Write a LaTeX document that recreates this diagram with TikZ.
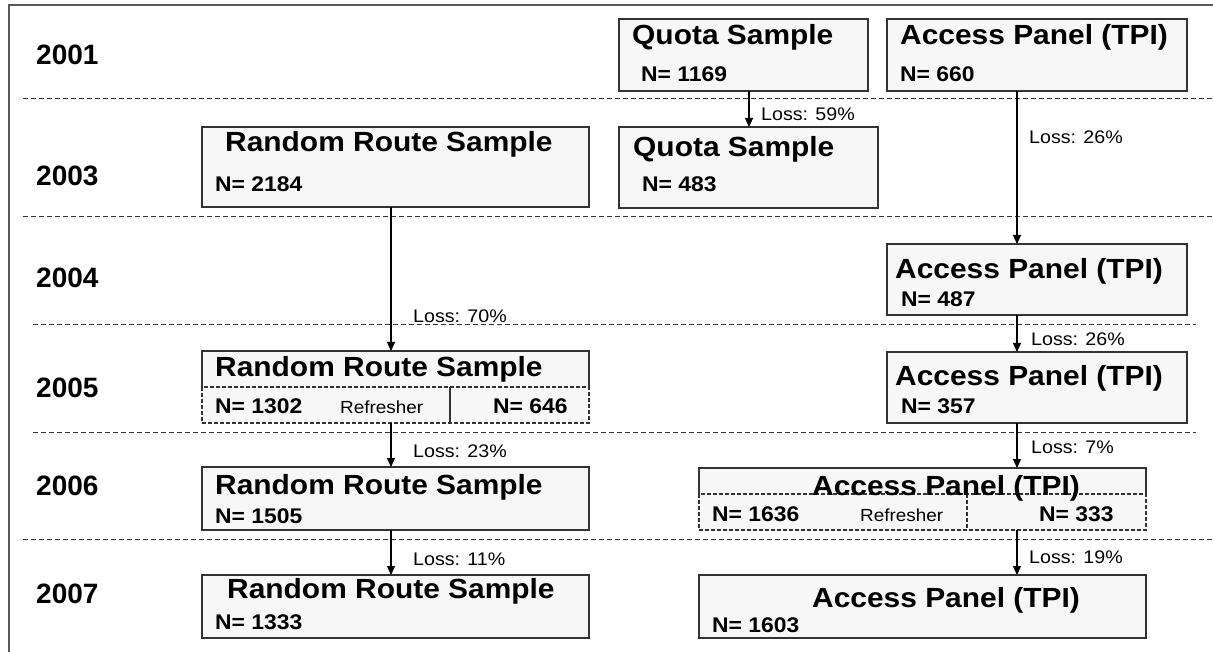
\documentclass[tikz,border=0pt]{standalone}
\usepackage{fontspec}
\setmainfont{Liberation Sans}
\newfontfamily\stfont{Liberation Sans}[FakeStretch=1.08]
\usetikzlibrary{arrows.meta}
\tikzset{
 box/.style={draw=black!80, line width=1.2pt, fill=black!3, inner sep=0pt, outer sep=0pt, anchor=north west},
 boxfill/.style={fill=black!3, inner sep=0pt, outer sep=0pt, anchor=north west},
 boxdash/.style={draw=black!80, fill=black!3, line width=1.2pt, dash pattern=on 4pt off 2pt, inner sep=0pt, outer sep=0pt, anchor=north west},
 outl/.style={draw=black!80, line width=1.2pt},
 divdash/.style={draw=black!80, line width=1.2pt, dash pattern=on 4pt off 2pt},
 yrsep/.style={draw=black!80, line width=1pt, dash pattern=on 5pt off 3pt},
 frm/.style={draw=black!65, line width=1.2pt},
 arr/.style={draw=black, line width=1.2pt, -{Triangle[length=9pt,width=8pt]}},
 yr/.style={anchor=base west, inner sep=0pt, font=\fontsize{28}{32}\selectfont\bfseries},
 ttl/.style={anchor=base west, inner sep=0pt, font=\stfont\fontsize{27.7}{32}\selectfont\bfseries},
 nn/.style={anchor=base west, inner sep=0pt, font=\stfont\fontsize{21.2}{24}\selectfont\bfseries},
 loss/.style={anchor=base west, inner sep=0pt, font=\stfont\fontsize{18.2}{20}\selectfont},
 refr/.style={anchor=base west, inner sep=0pt, font=\stfont\fontsize{17.5}{20}\selectfont},
}
\begin{document}
\begin{tikzpicture}[x=1pt,y=-1pt]
\useasboundingbox (0,0) rectangle (1213,652);
\fill[white] (0,0) rectangle (1213,652);
% frame
\coordinate (fTL) at (9,5);
\coordinate (fTR) at (1213,5);
\coordinate (fBL) at (9,652);
\draw[frm] (fTR) -- (fTL) -- (fBL);
% separators
\coordinate (s1a) at (23,99);  \coordinate (s1b) at (1213,99);
\coordinate (s2a) at (23,217); \coordinate (s2b) at (1213,217);
\coordinate (s3a) at (33,325); \coordinate (s3b) at (1196,325);
\coordinate (s4a) at (33,432); \coordinate (s4b) at (1196,432);
\coordinate (s5a) at (23,539); \coordinate (s5b) at (1213,539);
\draw[yrsep] (s1a) -- (s1b);
\draw[yrsep] (s2a) -- (s2b);
\draw[yrsep] (s3a) -- (s3b);
\draw[yrsep] (s4a) -- (s4b);
\draw[yrsep] (s5a) -- (s5b);
% years
\node[yr] (y01) at (36,65) {2001};
\node[yr] (y03) at (36,186) {2003};
\node[yr] (y04) at (36,288) {2004};
\node[yr] (y05) at (36,397) {2005};
\node[yr] (y06) at (36,495) {2006};
\node[yr] (y07) at (36,603) {2007};
% boxes
\node[box, minimum width=249pt, minimum height=72pt] (q01) at (619,19) {};
\node[box, minimum width=300pt, minimum height=72pt] (a01) at (887,19) {};
\node[box, minimum width=387pt, minimum height=80pt] (r03) at (202,127) {};
\node[box, minimum width=259pt, minimum height=81pt] (q03) at (619,127) {};
\node[box, minimum width=300pt, minimum height=71pt] (a04) at (887,244) {};
\node[boxfill, minimum width=387pt, minimum height=36pt] (r05) at (202,351) {};
\draw[outl] (r05.south west) -- (r05.north west) -- (r05.north east) -- (r05.south east);
\node[boxdash, minimum width=387pt, minimum height=36pt] (r05b) at (202,387) {};
\coordinate (dv1) at (450,0);
\draw[outl] (r05b.north -| dv1) -- (r05b.south -| dv1);
\node[box, minimum width=300pt, minimum height=71pt] (a05) at (887,352) {};
\node[box, minimum width=387pt, minimum height=63pt] (r06) at (202,467) {};
\node[boxfill, minimum width=447pt, minimum height=26pt] (t06) at (699,468) {};
\draw[outl] (t06.south west) -- (t06.north west) -- (t06.north east) -- (t06.south east);
\node[boxdash, minimum width=447pt, minimum height=36pt] (t06b) at (699,494) {};
\coordinate (dv2) at (967,0);
\draw[divdash] (t06b.north -| dv2) -- (t06b.south -| dv2);
\node[box, minimum width=387pt, minimum height=63pt] (r07) at (202,575) {};
\node[box, minimum width=447pt, minimum height=63pt] (t07) at (699,575) {};
% arrows
\coordinate (cxL) at (391,0);
\coordinate (cxQ) at (749,0);
\coordinate (cxA) at (1017,0);
\draw[arr] (r03.south -| cxL) -- (r05.north -| cxL);
\draw[arr] (r05b.south -| cxL) -- (r06.north -| cxL);
\draw[arr] (r06.south -| cxL) -- (r07.north -| cxL);
\draw[arr] (q01.south -| cxQ) -- (q03.north -| cxQ);
\draw[arr] (a01.south -| cxA) -- (a04.north -| cxA);
\draw[arr] (a04.south -| cxA) -- (a05.north -| cxA);
\draw[arr] (a05.south -| cxA) -- (t06.north -| cxA);
\draw[arr] (t06b.south -| cxA) -- (t07.north -| cxA);
% box texts
\node[ttl] (q01t) at (632,45) {Quota Sample};
\node[nn]  (q01n) at (641,82) {N= 1169};
\node[ttl] (a01t) at (900,45) {Access Panel (TPI)};
\node[nn]  (a01n) at (900,82) {N= 660};
\node[ttl] (r03t) at (225,152) {Random Route Sample};
\node[nn]  (r03n) at (215,192) {N= 2184};
\node[ttl] (q03t) at (633,157) {Quota Sample};
\node[nn]  (q03n) at (642,192) {N= 483};
\node[ttl] (a04t) at (895,279) {Access Panel (TPI)};
\node[nn]  (a04n) at (901,307) {N= 487};
\node[ttl] (r05t) at (215,377) {Random Route Sample};
\node[nn]  (r05n) at (215,413) {N= 1302};
\node[refr] (r05r) at (340,413) {Refresher};
\node[nn]  (r05m) at (493,413) {N= 646};
\node[ttl] (a05t) at (895,385) {Access Panel (TPI)};
\node[nn]  (a05n) at (901,413) {N= 357};
\node[ttl] (r06t) at (215,494) {Random Route Sample};
\node[nn]  (r06n) at (215,523) {N= 1505};
\node[ttl] (t06t) at (812,495) {Access Panel (TPI)};
\node[nn]  (t06n) at (712,521) {N= 1636};
\node[refr] (t06r) at (860,521) {Refresher};
\node[nn]  (t06m) at (1039,521) {N= 333};
\node[ttl] (r07t) at (227,598) {Random Route Sample};
\node[nn]  (r07n) at (215,629) {N= 1333};
\node[ttl] (t07t) at (812,607) {Access Panel (TPI)};
\node[nn]  (t07n) at (712,632) {N= 1603};
% loss labels
\node[loss] (l1) at (761,121) {Loss: 59\%};
\node[loss] (l2) at (1029,144) {Loss: 26\%};
\node[loss] (l3) at (413,323) {Loss: 70\%};
\node[loss] (l4) at (1031,345) {Loss: 26\%};
\node[loss] (l5) at (413,457) {Loss: 23\%};
\node[loss] (l6) at (1031,453) {Loss: 7\%};
\node[loss] (l7) at (413,565) {Loss: 11\%};
\node[loss] (l8) at (1029,563) {Loss: 19\%};
\end{tikzpicture}
\end{document}
